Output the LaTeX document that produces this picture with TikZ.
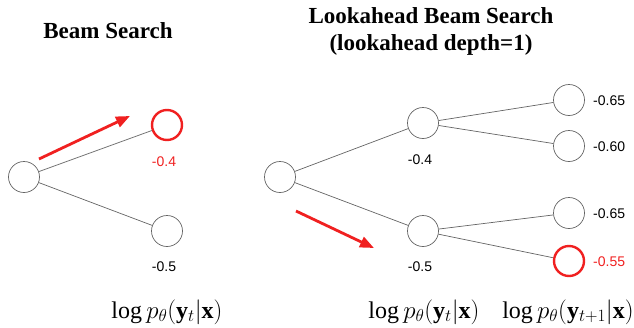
\documentclass[tikz,border=0pt]{standalone}
\usepackage{fontspec}
\usepackage{amsmath}
\setmainfont{Liberation Serif}
\newfontfamily\numfont{Liberation Sans}
\usetikzlibrary{arrows.meta}
\definecolor{myred}{RGB}{240,32,32}
\definecolor{edgegray}{RGB}{100,100,100}
\tikzset{
  tnode/.style={circle,draw=edgegray,line width=0.7pt,minimum size=31pt,inner sep=0pt},
  rnode/.style={circle,draw=myred,line width=2.4pt,minimum size=30pt,inner sep=0pt},
  edge/.style={draw=edgegray,line width=0.7pt},
  val/.style={font=\numfont\fontsize{14}{16}\selectfont,inner sep=0pt},
  rval/.style={val,text=myred},
  ttl/.style={font=\bfseries\fontsize{23}{27}\selectfont,align=center,inner sep=0pt},
  lab/.style={font=\fontsize{24}{28}\selectfont,inner sep=0pt},
  bigarrow/.style={draw=myred,line width=2.8pt,-{Triangle[length=14pt,width=11pt]}},
}
\begin{document}
\begin{tikzpicture}[x=1pt,y=-1pt]
\useasboundingbox (0,0) rectangle (634,327);
% Left: Beam Search
\node[ttl] (t1) at (108,31) {Beam Search};
\node[tnode] (a0) at (24,177) {};
\node[rnode] (a1) at (167,125) {};
\node[tnode] (a2) at (167,231) {};
\draw[edge] (a0) -- (a1);
\draw[edge] (a0) -- (a2);
\node[rval] (v1) at (164,162) {-0.4};
\node[val] (v2) at (164,267) {-0.5};
\coordinate (ar1s) at (39,159);
\coordinate (ar1e) at (130,116);
\draw[bigarrow] (ar1s) -- (ar1e);
\node[lab] (l1) at (167,312) {$\log p_\theta(\mathbf{y}_t|\mathbf{x})$};
% Right: Lookahead Beam Search
\node[ttl] (t2) at (431,31) {Lookahead Beam Search\\(lookahead depth=1)};
\node[tnode] (b0) at (280,177) {};
\node[tnode] (b1) at (423,123) {};
\node[tnode] (b2) at (423,231) {};
\node[tnode] (c1) at (569,100) {};
\node[tnode] (c2) at (569,146) {};
\node[tnode] (c3) at (569,213) {};
\node[rnode] (c4) at (569,261) {};
\draw[edge] (b0) -- (b1);
\draw[edge] (b0) -- (b2);
\draw[edge] (b1) -- (c1);
\draw[edge] (b1) -- (c2);
\draw[edge] (b2) -- (c3);
\draw[edge] (b2) -- (c4);
\node[val] (w1) at (420,160) {-0.4};
\node[val] (w2) at (420,267) {-0.5};
\node[val,anchor=west] (u1) at (593,101) {-0.65};
\node[val,anchor=west] (u2) at (593,147) {-0.60};
\node[val,anchor=west] (u3) at (593,214) {-0.65};
\node[rval,anchor=west] (u4) at (593,262) {-0.55};
\coordinate (ar2s) at (296,211);
\coordinate (ar2e) at (374,248);
\draw[bigarrow] (ar2s) -- (ar2e);
\node[lab] (l2) at (424,312) {$\log p_\theta(\mathbf{y}_t|\mathbf{x})$};
\node[lab] (l3) at (568,312) {$\log p_\theta(\mathbf{y}_{t+1}|\mathbf{x})$};
\end{tikzpicture}
\end{document}
